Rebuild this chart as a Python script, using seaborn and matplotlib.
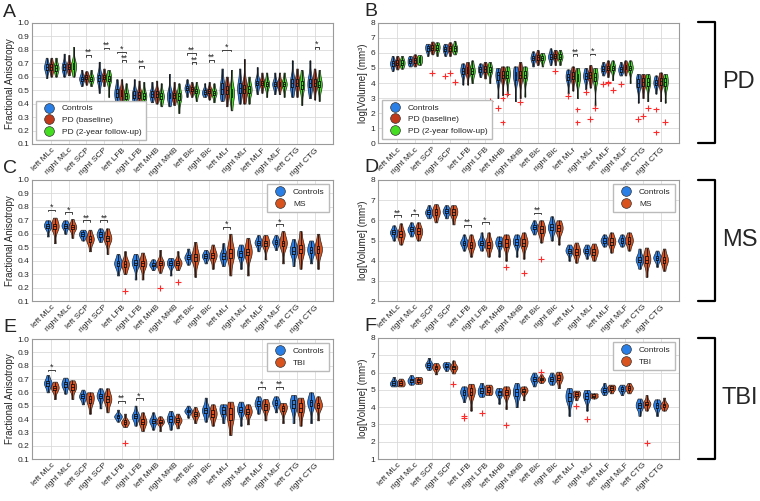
import warnings
import pandas as pd
import matplotlib
matplotlib.use("Agg")
import matplotlib.pyplot as plt
from matplotlib.lines import Line2D
import seaborn as sns

warnings.filterwarnings("ignore")

# regions along the x axis (same for every panel)
regions = ['left MLc', 'right MLc', 'left SCP', 'right SCP', 'left LFB', 'right LFB',
           'left MHB', 'right MHB', 'left Bic', 'right Bic', 'left MLr', 'right MLr',
           'left MLF', 'right MLF', 'left CTG', 'right CTG']

pd_groups = ['Controls', 'PD (baseline)', 'PD (2-year follow-up)']
ms_groups = ['Controls', 'MS']
tbi_groups = ['Controls', 'TBI']

# ---- Panel A: FA, PD ----
A_ctl_lo = [0.59, 0.60, 0.53, 0.48, 0.41, 0.40, 0.41, 0.38, 0.45, 0.45, 0.42, 0.40, 0.47, 0.47, 0.45, 0.44]
A_ctl_q1 = [0.65, 0.65, 0.57, 0.57, 0.45, 0.44, 0.45, 0.44, 0.50, 0.47, 0.47, 0.48, 0.54, 0.53, 0.52, 0.52]
A_ctl_med = [0.67, 0.67, 0.585, 0.59, 0.48, 0.465, 0.47, 0.46, 0.515, 0.485, 0.51, 0.515, 0.555, 0.545, 0.55, 0.55]
A_ctl_q3 = [0.69, 0.69, 0.60, 0.61, 0.51, 0.49, 0.49, 0.48, 0.53, 0.50, 0.55, 0.55, 0.57, 0.56, 0.58, 0.58]
A_ctl_hi = [0.74, 0.77, 0.65, 0.71, 0.58, 0.58, 0.56, 0.62, 0.58, 0.55, 0.66, 0.66, 0.67, 0.63, 0.72, 0.72]

A_pdb_lo = [0.60, 0.61, 0.54, 0.53, 0.39, 0.38, 0.40, 0.39, 0.45, 0.43, 0.38, 0.40, 0.48, 0.47, 0.45, 0.43]
A_pdb_q1 = [0.65, 0.655, 0.58, 0.58, 0.455, 0.445, 0.45, 0.44, 0.49, 0.475, 0.47, 0.48, 0.54, 0.53, 0.53, 0.53]
A_pdb_med = [0.67, 0.675, 0.595, 0.595, 0.48, 0.465, 0.47, 0.46, 0.505, 0.49, 0.50, 0.51, 0.555, 0.545, 0.555, 0.555]
A_pdb_q3 = [0.69, 0.69, 0.61, 0.61, 0.50, 0.485, 0.49, 0.48, 0.52, 0.505, 0.53, 0.54, 0.57, 0.56, 0.58, 0.58]
A_pdb_hi = [0.74, 0.76, 0.64, 0.66, 0.58, 0.57, 0.57, 0.56, 0.56, 0.56, 0.60, 0.73, 0.63, 0.63, 0.66, 0.66]

A_pdf_lo = [0.60, 0.60, 0.53, 0.45, 0.35, 0.37, 0.38, 0.33, 0.42, 0.41, 0.35, 0.40, 0.45, 0.45, 0.39, 0.42]
A_pdf_q1 = [0.645, 0.66, 0.57, 0.565, 0.435, 0.435, 0.435, 0.43, 0.475, 0.465, 0.45, 0.48, 0.53, 0.53, 0.51, 0.52]
A_pdf_med = [0.665, 0.68, 0.585, 0.585, 0.455, 0.455, 0.455, 0.455, 0.49, 0.48, 0.48, 0.505, 0.545, 0.545, 0.54, 0.54]
A_pdf_q3 = [0.685, 0.70, 0.60, 0.605, 0.475, 0.475, 0.475, 0.475, 0.505, 0.495, 0.51, 0.53, 0.56, 0.56, 0.57, 0.565]
A_pdf_hi = [0.74, 0.82, 0.65, 0.65, 0.55, 0.56, 0.55, 0.55, 0.56, 0.55, 0.65, 0.60, 0.63, 0.63, 0.65, 0.65]

A_outliers = [('right LFB', 'PD (baseline)', 0.27)]
A_sig = [('left SCP', 1, 2, 0.76, '**'), ('right SCP', 1, 2, 0.815, '**'),
         ('left LFB', 0, 2, 0.785, '*'), ('left LFB', 1, 2, 0.72, '**'),
         ('right LFB', 1, 2, 0.68, '**'), ('left Bic', 0, 2, 0.775, '**'),
         ('left Bic', 1, 2, 0.705, '**'), ('right Bic', 1, 2, 0.725, '**'),
         ('left MLr', 0, 2, 0.80, '*'), ('right CTG', 1, 2, 0.82, '*')]

# ---- Panel B: volume, PD ----
B_ctl_lo = [4.8, 5.1, 5.8, 5.8, 3.9, 4.4, 3.0, 2.8, 5.1, 5.2, 3.3, 3.6, 4.5, 4.5, 2.7, 3.3]
B_ctl_q1 = [5.15, 5.3, 6.15, 6.1, 4.6, 4.75, 4.2, 4.2, 5.5, 5.6, 4.2, 4.25, 4.8, 4.75, 3.75, 3.85]
B_ctl_med = [5.3, 5.45, 6.3, 6.25, 4.8, 4.9, 4.5, 4.55, 5.65, 5.75, 4.4, 4.45, 4.95, 4.9, 4.0, 4.0]
B_ctl_q3 = [5.45, 5.6, 6.45, 6.4, 5.0, 5.05, 4.7, 4.75, 5.8, 5.9, 4.6, 4.65, 5.1, 5.05, 4.25, 4.2]
B_ctl_hi = [5.8, 5.8, 6.6, 6.6, 5.3, 5.3, 5.0, 5.1, 6.1, 6.3, 4.9, 5.0, 5.4, 5.4, 4.6, 4.5]

B_pdb_lo = [4.9, 5.1, 5.9, 5.8, 3.9, 4.3, 3.2, 3.0, 5.2, 5.2, 3.5, 3.7, 4.4, 4.5, 3.0, 2.8]
B_pdb_q1 = [5.2, 5.35, 6.2, 6.15, 4.65, 4.75, 4.3, 4.3, 5.55, 5.65, 4.25, 4.3, 4.85, 4.9, 3.8, 3.9]
B_pdb_med = [5.35, 5.5, 6.35, 6.3, 4.85, 4.9, 4.55, 4.55, 5.7, 5.8, 4.45, 4.5, 5.0, 5.05, 4.05, 4.1]
B_pdb_q3 = [5.5, 5.65, 6.5, 6.45, 5.05, 5.1, 4.8, 4.8, 5.85, 5.95, 4.7, 4.75, 5.15, 5.2, 4.3, 4.3]
B_pdb_hi = [5.8, 5.9, 6.75, 6.7, 5.4, 5.4, 5.1, 5.4, 6.2, 6.2, 5.1, 5.2, 5.5, 5.5, 4.6, 4.7]

B_pdf_lo = [4.95, 5.2, 5.8, 5.9, 4.0, 4.0, 3.2, 3.1, 5.1, 5.2, 3.0, 2.5, 4.2, 4.0, 2.8, 2.7]
B_pdf_q1 = [5.2, 5.4, 6.2, 6.15, 4.6, 4.7, 4.3, 4.3, 5.5, 5.6, 4.1, 4.15, 4.85, 4.85, 3.8, 3.8]
B_pdf_med = [5.35, 5.55, 6.35, 6.3, 4.8, 4.85, 4.55, 4.55, 5.65, 5.75, 4.35, 4.4, 5.0, 5.0, 4.05, 4.05]
B_pdf_q3 = [5.5, 5.7, 6.5, 6.45, 5.0, 5.05, 4.8, 4.8, 5.8, 5.9, 4.6, 4.65, 5.15, 5.15, 4.3, 4.3]
B_pdf_hi = [5.8, 5.85, 6.7, 6.8, 5.5, 5.4, 5.1, 5.1, 6.0, 6.2, 5.0, 5.0, 5.5, 5.5, 4.6, 4.6]

B_outliers = [('left SCP', 'PD (baseline)', 4.68), ('right SCP', 'Controls', 4.48),
              ('right SCP', 'PD (baseline)', 4.64), ('right SCP', 'PD (2-year follow-up)', 4.05),
              ('right LFB', 'PD (2-year follow-up)', 2.8), ('left MHB', 'Controls', 2.32),
              ('left MHB', 'PD (baseline)', 2.98), ('left MHB', 'PD (baseline)', 1.39),
              ('left MHB', 'PD (2-year follow-up)', 3.25), ('right MHB', 'PD (baseline)', 2.76),
              ('right Bic', 'PD (baseline)', 4.79), ('left MLr', 'Controls', 3.12),
              ('left MLr', 'PD (2-year follow-up)', 2.25), ('left MLr', 'PD (2-year follow-up)', 1.39),
              ('right MLr', 'Controls', 3.40), ('right MLr', 'PD (baseline)', 1.63),
              ('right MLr', 'PD (2-year follow-up)', 2.34), ('left MLF', 'Controls', 3.93),
              ('left MLF', 'PD (baseline)', 4.04), ('left MLF', 'PD (baseline)', 3.97),
              ('left MLF', 'PD (2-year follow-up)', 3.53), ('right MLF', 'Controls', 3.91),
              ('left CTG', 'Controls', 1.63), ('left CTG', 'PD (baseline)', 1.81),
              ('left CTG', 'PD (2-year follow-up)', 2.32), ('right CTG', 'Controls', 2.25),
              ('right CTG', 'Controls', 0.73), ('right CTG', 'PD (2-year follow-up)', 1.39)]
B_sig = [('left MLr', 1, 2, 5.9, '**'), ('right MLr', 1, 2, 5.95, '*')]

# ---- Panel C: FA, MS ----
C_ctl_lo = [0.58, 0.60, 0.55, 0.54, 0.29, 0.26, 0.33, 0.29, 0.37, 0.38, 0.36, 0.34, 0.47, 0.48, 0.36, 0.38]
C_ctl_q1 = [0.645, 0.645, 0.58, 0.575, 0.36, 0.365, 0.36, 0.365, 0.41, 0.42, 0.415, 0.43, 0.52, 0.525, 0.45, 0.455]
C_ctl_med = [0.66, 0.66, 0.595, 0.595, 0.38, 0.385, 0.37, 0.38, 0.425, 0.435, 0.435, 0.455, 0.535, 0.54, 0.475, 0.48]
C_ctl_q3 = [0.675, 0.675, 0.61, 0.61, 0.40, 0.405, 0.385, 0.395, 0.44, 0.45, 0.455, 0.475, 0.55, 0.555, 0.50, 0.505]
C_ctl_hi = [0.70, 0.70, 0.63, 0.64, 0.45, 0.45, 0.41, 0.42, 0.49, 0.48, 0.53, 0.52, 0.59, 0.59, 0.56, 0.55]

C_ms_lo = [0.53, 0.57, 0.47, 0.45, 0.30, 0.26, 0.31, 0.33, 0.28, 0.34, 0.29, 0.29, 0.41, 0.38, 0.34, 0.34]
C_ms_q1 = [0.635, 0.635, 0.54, 0.545, 0.355, 0.36, 0.365, 0.37, 0.40, 0.42, 0.42, 0.44, 0.51, 0.51, 0.455, 0.46]
C_ms_med = [0.655, 0.65, 0.56, 0.565, 0.375, 0.38, 0.38, 0.385, 0.425, 0.44, 0.455, 0.465, 0.53, 0.53, 0.485, 0.485]
C_ms_q3 = [0.675, 0.665, 0.58, 0.585, 0.395, 0.40, 0.395, 0.40, 0.45, 0.46, 0.49, 0.49, 0.55, 0.55, 0.515, 0.51]
C_ms_hi = [0.72, 0.71, 0.63, 0.64, 0.47, 0.46, 0.48, 0.47, 0.54, 0.52, 0.60, 0.57, 0.59, 0.62, 0.62, 0.60]

C_outliers = [('left LFB', 'MS', 0.175), ('left MHB', 'MS', 0.20), ('right MHB', 'MS', 0.24)]
C_sig = [('left MLc', 0, 1, 0.78, '*'), ('right MLc', 0, 1, 0.76, '*'),
         ('left SCP', 0, 1, 0.70, '**'), ('right SCP', 0, 1, 0.70, '**'),
         ('left MLr', 0, 1, 0.65, '*'), ('right MLF', 0, 1, 0.67, '*')]

# ---- Panel D: volume, MS ----
D_ctl_lo = [5.0, 5.2, 6.1, 6.1, 4.5, 4.5, 4.2, 4.2, 5.3, 5.0, 4.0, 4.1, 4.7, 4.7, 3.6, 3.7]
D_ctl_q1 = [5.3, 5.45, 6.3, 6.35, 4.8, 4.8, 4.75, 4.8, 5.55, 5.5, 4.4, 4.4, 4.9, 4.9, 3.95, 4.05]
D_ctl_med = [5.4, 5.55, 6.4, 6.45, 4.9, 4.9, 4.9, 4.95, 5.65, 5.65, 4.5, 4.5, 5.0, 5.0, 4.05, 4.15]
D_ctl_q3 = [5.5, 5.65, 6.5, 6.55, 5.0, 5.0, 5.0, 5.05, 5.75, 5.8, 4.6, 4.6, 5.1, 5.1, 4.2, 4.25]
D_ctl_hi = [5.75, 5.9, 6.75, 6.75, 5.3, 5.4, 5.2, 5.3, 6.0, 6.2, 4.8, 4.8, 5.3, 5.3, 4.6, 4.5]

D_ms_lo = [4.8, 5.0, 5.9, 5.8, 4.2, 4.2, 4.0, 4.1, 4.9, 4.8, 3.9, 4.0, 4.4, 4.5, 3.2, 3.5]
D_ms_q1 = [5.15, 5.3, 6.25, 6.25, 4.65, 4.65, 4.7, 4.75, 5.35, 5.45, 4.3, 4.3, 4.8, 4.85, 3.9, 3.9]
D_ms_med = [5.3, 5.45, 6.4, 6.4, 4.8, 4.8, 4.9, 4.9, 5.55, 5.6, 4.45, 4.45, 4.95, 5.0, 4.05, 4.05]
D_ms_q3 = [5.45, 5.6, 6.55, 6.55, 4.95, 4.95, 5.05, 5.05, 5.7, 5.75, 4.6, 4.6, 5.1, 5.15, 4.25, 4.2]
D_ms_hi = [5.85, 5.9, 6.8, 6.75, 5.3, 5.4, 5.3, 5.4, 6.0, 6.0, 4.9, 4.85, 5.4, 5.4, 4.65, 4.6]

D_outliers = [('left MHB', 'MS', 3.7), ('right MHB', 'MS', 3.4), ('left Bic', 'MS', 4.07)]
D_sig = [('left MLc', 0, 1, 6.25, '**'), ('right MLc', 0, 1, 6.3, '*'),
         ('left LFB', 0, 1, 5.77, '**'), ('right LFB', 0, 1, 5.9, '*'),
         ('left Bic', 0, 1, 6.38, '**')]

# ---- Panel E: FA, TBI ----
E_ctl_lo = [0.60, 0.59, 0.51, 0.48, 0.38, 0.35, 0.32, 0.32, 0.41, 0.38, 0.37, 0.35, 0.44, 0.45, 0.37, 0.37]
E_ctl_q1 = [0.65, 0.64, 0.555, 0.555, 0.41, 0.405, 0.37, 0.38, 0.45, 0.445, 0.44, 0.45, 0.495, 0.505, 0.48, 0.50]
E_ctl_med = [0.67, 0.66, 0.57, 0.575, 0.42, 0.42, 0.385, 0.40, 0.46, 0.465, 0.465, 0.47, 0.515, 0.52, 0.51, 0.525]
E_ctl_q3 = [0.685, 0.68, 0.585, 0.59, 0.43, 0.435, 0.40, 0.42, 0.47, 0.485, 0.49, 0.49, 0.535, 0.54, 0.54, 0.545]
E_ctl_hi = [0.73, 0.71, 0.62, 0.63, 0.47, 0.50, 0.45, 0.46, 0.50, 0.56, 0.51, 0.53, 0.57, 0.57, 0.58, 0.60]

E_tbi_lo = [0.55, 0.55, 0.44, 0.45, 0.34, 0.31, 0.31, 0.33, 0.37, 0.35, 0.28, 0.36, 0.39, 0.37, 0.35, 0.39]
E_tbi_q1 = [0.615, 0.62, 0.52, 0.525, 0.365, 0.36, 0.37, 0.375, 0.42, 0.415, 0.39, 0.435, 0.47, 0.46, 0.45, 0.485]
E_tbi_med = [0.635, 0.64, 0.55, 0.55, 0.375, 0.38, 0.38, 0.39, 0.435, 0.44, 0.44, 0.455, 0.495, 0.485, 0.485, 0.505]
E_tbi_q3 = [0.65, 0.66, 0.575, 0.575, 0.39, 0.40, 0.39, 0.405, 0.45, 0.465, 0.48, 0.475, 0.515, 0.50, 0.52, 0.52]
E_tbi_hi = [0.68, 0.69, 0.60, 0.63, 0.44, 0.45, 0.42, 0.44, 0.49, 0.51, 0.53, 0.51, 0.55, 0.52, 0.56, 0.57]

E_outliers = [('left LFB', 'TBI', 0.22)]
E_sig = [('left MLc', 0, 1, 0.77, '*'), ('left LFB', 0, 1, 0.535, '**'),
         ('right LFB', 0, 1, 0.555, '*'), ('left MLF', 0, 1, 0.64, '*'),
         ('right MLF', 0, 1, 0.64, '**')]

# ---- Panel F: volume, TBI ----
F_ctl_lo = [5.2, 5.3, 6.15, 6.1, 4.3, 4.6, 4.2, 4.0, 5.2, 5.3, 3.5, 3.8, 4.7, 4.7, 3.5, 3.5]
F_ctl_q1 = [5.3, 5.45, 6.35, 6.3, 4.7, 4.8, 4.7, 4.65, 5.5, 5.5, 4.35, 4.45, 4.9, 4.95, 3.95, 3.95]
F_ctl_med = [5.4, 5.55, 6.45, 6.4, 4.85, 4.95, 4.85, 4.85, 5.65, 5.6, 4.6, 4.65, 5.0, 5.05, 4.1, 4.1]
F_ctl_q3 = [5.5, 5.65, 6.55, 6.5, 5.0, 5.1, 4.95, 5.05, 5.75, 5.75, 4.8, 4.8, 5.1, 5.15, 4.25, 4.25]
F_ctl_hi = [5.75, 5.85, 6.85, 6.6, 5.2, 5.4, 5.1, 5.4, 6.0, 6.0, 5.1, 5.0, 5.4, 5.3, 4.5, 4.45]

F_tbi_lo = [5.2, 5.35, 5.9, 5.95, 3.8, 4.7, 3.9, 4.4, 5.4, 5.1, 4.4, 4.5, 4.8, 4.8, 3.8, 3.8]
F_tbi_q1 = [5.3, 5.45, 6.2, 6.2, 4.7, 4.85, 4.7, 4.85, 5.55, 5.55, 4.65, 4.6, 5.0, 5.0, 4.1, 4.0]
F_tbi_med = [5.4, 5.55, 6.3, 6.3, 4.9, 5.0, 4.85, 4.95, 5.6, 5.7, 4.75, 4.65, 5.1, 5.1, 4.2, 4.1]
F_tbi_q3 = [5.5, 5.65, 6.4, 6.4, 5.1, 5.15, 5.0, 5.05, 5.7, 5.85, 4.85, 4.75, 5.2, 5.2, 4.3, 4.2]
F_tbi_hi = [5.65, 5.75, 6.55, 6.7, 5.35, 5.3, 5.2, 5.2, 5.9, 6.05, 4.95, 4.8, 5.3, 5.4, 4.7, 4.55]

F_outliers = [('right SCP', 'TBI', 5.34), ('left LFB', 'Controls', 3.51),
              ('left LFB', 'Controls', 3.38), ('right LFB', 'Controls', 3.65),
              ('left MHB', 'TBI', 2.95), ('left Bic', 'TBI', 6.02),
              ('left MLr', 'TBI', 4.05), ('right MLr', 'Controls', 3.3),
              ('left CTG', 'TBI', 1.95)]
F_sig = []

# colours
c_ctl = '#2a7fe6'
c_pdb = '#c0391b'
c_pdf = '#44dd22'
c_pat = '#d9531e'

sns.set_theme(style="whitegrid")
plt.rcParams['font.family'] = ['Liberation Sans', 'DejaVu Sans']

DODGE_W = 0.8


def long_table(groups, stats):
    rows = []
    for g, (lo, q1, med, q3, hi) in zip(groups, stats):
        for r, a, b, c, d, e in zip(regions, lo, q1, med, q3, hi):
            for v in (a, b, b, c, d, d, e):
                rows.append((r, g, v))
    return pd.DataFrame(rows, columns=['region', 'group', 'value'])


def draw_panel(ax, groups, colors, stats, outliers, sigs, ylim, yticks, ylabel, legend_loc):
    df = long_table(groups, stats)
    pal = dict(zip(groups, colors))
    sns.violinplot(data=df, x='region', y='value', hue='group', order=regions, hue_order=groups,
                   palette=pal, width=DODGE_W, gap=-0.1, density_norm='width', cut=0,
                   inner=None, linewidth=0.5, linecolor='#262626', saturation=1,
                   bw_adjust=0.85, legend=False, ax=ax)
    sns.boxplot(data=df, x='region', y='value', hue='group', order=regions, hue_order=groups,
                palette={g: '#111111' for g in groups}, fill=False, width=DODGE_W, gap=0.6,
                whis=(0, 100), linewidth=0.6, showcaps=False, legend=False, ax=ax)
    if outliers:
        odf = pd.DataFrame(outliers, columns=['region', 'group', 'value'])
        sns.stripplot(data=odf, x='region', y='value', hue='group', order=regions,
                      hue_order=groups, palette={g: '#ff2a2a' for g in groups}, dodge=True,
                      jitter=False, marker='+', size=4, linewidth=0.8, legend=False, ax=ax)

    # significance brackets
    n = len(groups)
    tick = (ylim[1] - ylim[0]) * 0.015
    for region, g1, g2, y, label in sigs:
        i = regions.index(region)
        x1 = i + DODGE_W / n * (g1 - (n - 1) / 2)
        x2 = i + DODGE_W / n * (g2 - (n - 1) / 2)
        ax.plot([x1, x1, x2, x2], [y - tick, y, y, y - tick], color='#222222', lw=0.6)
        ax.text((x1 + x2) / 2, y - tick * 1.2, label, ha='center', va='bottom', fontsize=6.5)

    ax.set_xlim(-1.1, 16.05)
    ax.set_ylim(*ylim)
    ax.set_yticks(yticks)
    ax.set_xlabel('')
    ax.set_ylabel(ylabel, fontsize=7, labelpad=2)
    ax.tick_params(axis='both', labelsize=6, length=0, pad=2)
    plt.setp(ax.get_xticklabels(), rotation=45, ha='right', rotation_mode='anchor')
    ax.grid(True, color='#dadada', lw=0.6)
    for s in ax.spines.values():
        s.set_color('#9a9a9a')
        s.set_linewidth(0.8)

    handles = [Line2D([0], [0], marker='o', ls='', markersize=7, markerfacecolor=c,
                      markeredgecolor='#333333', markeredgewidth=0.5, label=g)
               for g, c in zip(groups, colors)]
    ax.legend(handles=handles, loc=legend_loc, fontsize=6, frameon=True, fancybox=False,
              edgecolor='#bbbbbb', framealpha=1, borderpad=0.5, handletextpad=0.6,
              labelspacing=0.45)


fig = plt.figure(figsize=(7.6, 5.01), dpi=100)
W, H = 760, 501


def add_axes(left, top, right, bottom):
    return fig.add_axes([left / W, 1 - bottom / H, (right - left) / W, (bottom - top) / H])


axA = add_axes(32, 22.7, 333, 144)
axB = add_axes(378, 22.7, 679, 143.3)
axC = add_axes(32, 180, 333, 301)
axD = add_axes(378, 180, 679, 301)
axE = add_axes(32, 339, 333, 459)
axF = add_axes(378, 338, 679, 459)

fa_ticks = [0.1, 0.2, 0.3, 0.4, 0.5, 0.6, 0.7, 0.8, 0.9, 1.0]
fa_label = 'Fractional Anisotropy'
vol_label = 'log[Volume] (mm³)'

draw_panel(axA, pd_groups, [c_ctl, c_pdb, c_pdf],
           [(A_ctl_lo, A_ctl_q1, A_ctl_med, A_ctl_q3, A_ctl_hi),
            (A_pdb_lo, A_pdb_q1, A_pdb_med, A_pdb_q3, A_pdb_hi),
            (A_pdf_lo, A_pdf_q1, A_pdf_med, A_pdf_q3, A_pdf_hi)],
           A_outliers, A_sig, (0.1, 1.0), fa_ticks, fa_label, 'lower left')
draw_panel(axB, pd_groups, [c_ctl, c_pdb, c_pdf],
           [(B_ctl_lo, B_ctl_q1, B_ctl_med, B_ctl_q3, B_ctl_hi),
            (B_pdb_lo, B_pdb_q1, B_pdb_med, B_pdb_q3, B_pdb_hi),
            (B_pdf_lo, B_pdf_q1, B_pdf_med, B_pdf_q3, B_pdf_hi)],
           B_outliers, B_sig, (0, 8), list(range(0, 9)), vol_label, 'lower left')
draw_panel(axC, ms_groups, [c_ctl, c_pat],
           [(C_ctl_lo, C_ctl_q1, C_ctl_med, C_ctl_q3, C_ctl_hi),
            (C_ms_lo, C_ms_q1, C_ms_med, C_ms_q3, C_ms_hi)],
           C_outliers, C_sig, (0.1, 1.0), fa_ticks, fa_label, 'upper right')
draw_panel(axD, ms_groups, [c_ctl, c_pat],
           [(D_ctl_lo, D_ctl_q1, D_ctl_med, D_ctl_q3, D_ctl_hi),
            (D_ms_lo, D_ms_q1, D_ms_med, D_ms_q3, D_ms_hi)],
           D_outliers, D_sig, (2, 8), list(range(2, 9)), vol_label, 'upper right')
draw_panel(axE, tbi_groups, [c_ctl, c_pat],
           [(E_ctl_lo, E_ctl_q1, E_ctl_med, E_ctl_q3, E_ctl_hi),
            (E_tbi_lo, E_tbi_q1, E_tbi_med, E_tbi_q3, E_tbi_hi)],
           E_outliers, E_sig, (0.1, 1.0), fa_ticks, fa_label, 'upper right')
draw_panel(axF, tbi_groups, [c_ctl, c_pat],
           [(F_ctl_lo, F_ctl_q1, F_ctl_med, F_ctl_q3, F_ctl_hi),
            (F_tbi_lo, F_tbi_q1, F_tbi_med, F_tbi_q3, F_tbi_hi)],
           F_outliers, F_sig, (1, 8), list(range(1, 9)), vol_label, 'upper right')

for ax in (axA, axC, axE):
    ax.yaxis.set_major_formatter(matplotlib.ticker.FormatStrFormatter('%.1f'))

# panel letters
for letter, x, y in [('A', 3, 17), ('B', 364, 16), ('C', 3, 173), ('D', 364, 172),
                     ('E', 3, 332), ('F', 364, 331)]:
    fig.text(x / W, 1 - y / H, letter, fontsize=14, va='baseline', ha='left')

# cohort brackets on the right
for name, top, bottom in [('PD', 22, 143), ('MS', 180, 301), ('TBI', 338, 459)]:
    xs = [698 / W, 715 / W, 715 / W, 698 / W]
    ys = [1 - top / H, 1 - top / H, 1 - bottom / H, 1 - bottom / H]
    fig.add_artist(Line2D(xs, ys, color='black', lw=1.6, transform=fig.transFigure))
    fig.text(722 / W, 1 - (top + bottom) / 2 / H, name, fontsize=17, va='center', ha='left')

fig.savefig('out.png', dpi=100)
